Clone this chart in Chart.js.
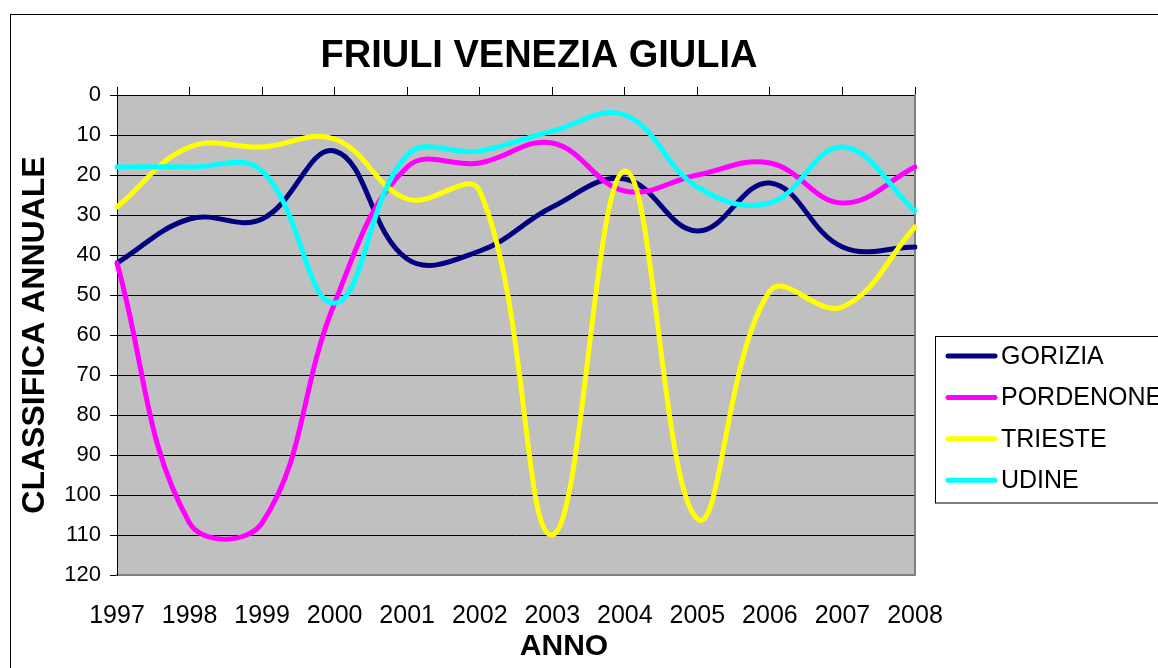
<!DOCTYPE html>
<html><head><meta charset="utf-8">
<script src="https://cdn.jsdelivr.net/npm/chart.js@4.4.1/dist/chart.umd.min.js"></script>
<style>html,body{margin:0;padding:0;background:#fff;}</style>
</head><body>
<canvas id="c" width="1158" height="668"></canvas>
<script>
const years = ['1997','1998','1999','2000','2001','2002','2003','2004','2005','2006','2007','2008'];
const gorizia   = [42, 31, 31, 14, 41, 39, 28, 21, 34, 22, 38, 38];
const pordenone = [42, 107, 107, 52, 18, 17, 12, 24, 20, 17, 27, 18];
const trieste   = [28, 13, 13, 11, 26, 24, 110, 19, 106, 49, 53, 33];
const udine     = [18, 18, 19, 52, 15, 14, 9, 5, 23, 27, 13, 29];
const seriesNames = ['GORIZIA', 'PORDENONE', 'TRIESTE', 'UDINE'];
const seriesColors = ['#000080', '#FF00FF', '#FFFF00', '#00FFFF'];
const yMin = 0, yMax = 120, yStep = 10;
const FONT = "'Liberation Sans', Arial, sans-serif";

const deco = {
  id: 'deco',
  beforeDraw(chart) {
    const ctx = chart.ctx, a = chart.chartArea;
    ctx.save();
    ctx.fillStyle = '#fff';
    ctx.fillRect(0, 0, chart.width, chart.height);
    ctx.strokeStyle = '#000';
    ctx.lineWidth = 1;
    ctx.strokeRect(10.5, 14.5, 1300, 800);
    ctx.fillStyle = '#C0C0C0';
    ctx.fillRect(a.left, a.top, a.right - a.left, a.bottom - a.top);
    ctx.restore();
  },
  afterDraw(chart) {
    const ctx = chart.ctx;
    ctx.save();
    // x axis title
    ctx.fillStyle = '#000';
    ctx.font = 'bold 30px ' + FONT;
    ctx.textAlign = 'center';
    ctx.textBaseline = 'middle';
    ctx.fillText('ANNO', 564, 647);
    // legend
    ctx.fillStyle = '#fff';
    ctx.fillRect(935.5, 336.5, 300, 166.5);
    ctx.strokeStyle = '#000';
    ctx.lineWidth = 1;
    ctx.strokeRect(935.5, 336.5, 300, 166.5);
    ctx.font = '25px ' + FONT;
    ctx.textAlign = 'left';
    chart.data.datasets.forEach((ds, i) => {
      const y = 356 + i * 41.4;
      ctx.strokeStyle = ds.borderColor;
      ctx.lineWidth = 5;
      ctx.lineCap = 'round';
      ctx.beginPath();
      ctx.moveTo(948, y);
      ctx.lineTo(995, y);
      ctx.stroke();
      ctx.fillStyle = '#000';
      ctx.fillText(ds.label, 1001, y + 1);
    });
    ctx.restore();
  }
};

const values = [gorizia, pordenone, trieste, udine];
const datasets = values.map((v, i) => ({
  label: seriesNames[i],
  data: v,
  borderColor: seriesColors[i],
  backgroundColor: seriesColors[i],
  borderWidth: 5,
  pointRadius: 0,
  tension: 0.4,
  fill: false,
  order: values.length - i,
  borderCapStyle: 'round',
  borderJoinStyle: 'round'
}));

new Chart(document.getElementById('c'), {
  type: 'line',
  data: { labels: years, datasets },
  options: {
    responsive: false,
    animation: false,
    devicePixelRatio: 1,
    layout: { padding: { left: 0, right: 80, top: 0, bottom: 0 } },
    plugins: {
      legend: { display: false },
      tooltip: { enabled: false },
      title: {
        display: true,
        text: 'FRIULI VENEZIA GIULIA',
        color: '#000',
        font: { family: FONT, size: 38, weight: 'bold' },
        padding: { top: 34, bottom: 0 }
      }
    },
    scales: {
      x: {
        type: 'category',
        position: 'bottom',
        grid: { display: false, drawTicks: false },
        border: { color: '#808080', width: 2 },
        ticks: { color: '#000', font: { family: FONT, size: 25 }, padding: 26, maxRotation: 0, autoSkip: false },
        afterFit(s) { s.height = 93; }
      },
      x2: {
        type: 'category',
        position: 'top',
        labels: years,
        grid: { drawOnChartArea: false, drawTicks: true, tickLength: 8, color: '#000' },
        border: { color: '#000', width: 1 },
        ticks: { display: false },
        afterFit(s) { s.height = 15.4; }
      },
      y: {
        reverse: true,
        min: yMin,
        max: yMax,
        ticks: { stepSize: yStep, color: '#000', font: { family: FONT, size: 22 }, padding: 9 },
        grid: {
          color: (c) => (c.tick && c.tick.value === yMax) ? 'rgba(0,0,0,0)' : '#000',
          tickColor: '#000',
          tickLength: 7,
          lineWidth: 1
        },
        border: { color: '#000', width: 1 },
        title: {
          display: true,
          text: 'CLASSIFICA ANNUALE',
          color: '#000',
          font: { family: FONT, size: 32, weight: 'bold' },
          padding: { top: 16, bottom: 0 }
        },
        afterFit(s) { s.width = 117; }
      },
      y2: {
        position: 'right',
        min: 0, max: 1,
        grid: { display: false, drawTicks: false },
        ticks: { display: false },
        border: { color: '#808080', width: 2 },
        afterFit(s) { s.width = 163; }
      }
    }
  },
  plugins: [deco]
});
</script>
</body></html>
